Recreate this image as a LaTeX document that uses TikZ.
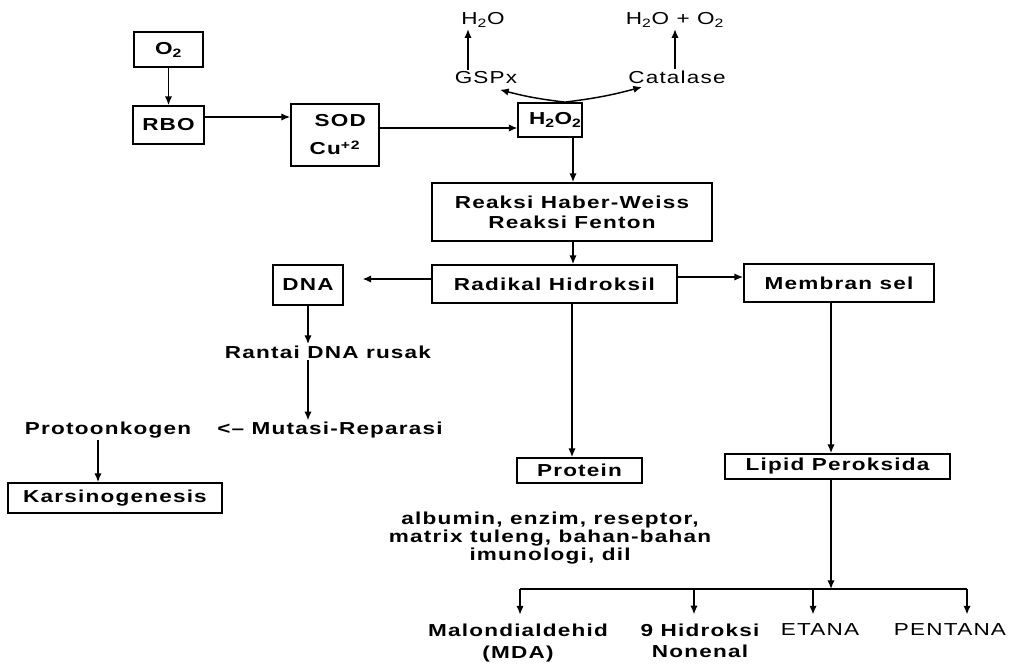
\documentclass[tikz,border=0pt]{standalone}
\usepackage{fontspec}
\setmainfont{Liberation Sans}[FakeStretch=1.3, LetterSpace=7]
\usetikzlibrary{arrows.meta,calc}
\begin{document}
\begin{tikzpicture}[x=0.75pt,y=-0.75pt,
  bf/.style={font=\bfseries\fontsize{13}{15}\selectfont},
  rg/.style={font=\fontsize{13}{15}\selectfont},
  box/.style={draw, line width=1.3pt, inner sep=0pt, bf},
  sz/.style 2 args={minimum width=#1*0.75pt, minimum height=#2*0.75pt},
  lbl/.style={inner sep=1pt},
  ln/.style={line width=1.1pt},
  arr/.style={line width=1.1pt, -{Latex[length=6.5pt,width=5.5pt]}}]
\useasboundingbox (0,0) rectangle (1012,667);
% boxes
\node[box, sz={69}{35}] (o2) at (168.5,49.5) {O\textsubscript{2}};
\node[box, sz={71}{38}] (rbo) at (168.5,125) {RBO};
\node[box, sz={88}{62}, align=center] (sod) at (335,135) {\hspace*{8pt}SOD\\[6pt]Cu\textsuperscript{+2}};
\node[box, sz={62}{34}] (h2o2) at (550,120) {\hspace*{8pt}H\textsubscript{2}O\textsubscript{2}};
\node[box, sz={280}{58}, align=center] (hw) at (572,212) {Reaksi Haber-Weiss\\Reaksi Fenton};
\node[box, sz={245}{38}] (rh) at (554.5,284) {Radikal Hidroksil};
\node[box, sz={70}{40}] (dna) at (308,285) {DNA};
\node[box, sz={190}{38}] (mem) at (839,283) {Membran sel};
\node[box, sz={125}{25}] (prot) at (579.5,470.5) {Protein};
\node[box, sz={225}{25}] (lip) at (837.5,466.5) {Lipid Peroksida};
\node[box, sz={214}{30}] (kars) at (115,498) {Karsinogenesis};
% labels
\node[lbl, rg] (h2oa) at (483,20) {H\textsubscript{2}O};
\node[lbl, rg] (gspx) at (486,78) {GSPx};
\node[lbl, rg] (cat) at (677,77) {Catalase};
\node[lbl, rg] (h2ob) at (675,20) {H\textsubscript{2}O + O\textsubscript{2}};
\node[lbl, bf] (rantai) at (328,352) {Rantai DNA rusak};
\node[lbl, bf] (proto) at (108,430) {Protoonkogen};
\node[lbl, bf] (mut) at (330,430) {<– Mutasi-Reparasi};
\node[lbl, bf, align=center, font=\bfseries\fontsize{13}{13.5}\selectfont] (alb) at (550,538) {albumin, enzim, reseptor,\\matrix tuleng, bahan-bahan\\imunologi, dil};
\node[lbl, bf, align=center] (mda) at (518,643) {Malondialdehid\\[1pt](MDA)};
\node[lbl, bf, align=center] (hno) at (700,641) {9 Hidroksi\\[1pt]Nonenal};
\node[lbl, rg] (eta) at (820,630) {ETANA};
\node[lbl, rg] (pen) at (950,630) {PENTANA};
% helper coordinates
\coordinate (c573) at (573,0);
\coordinate (c572) at (572,0);
\coordinate (c831) at (831,0);
\coordinate (c98) at (98,0);
\coordinate (y117) at (0,117);
\coordinate (y128) at (0,128);
\coordinate (y279) at (0,279);
\coordinate (y277) at (0,277);
\coordinate (j) at (831,589);
\coordinate (jl) at (520,589);
\coordinate (j2) at (694,589);
\coordinate (j3) at (813,589);
\coordinate (jr) at (967,589);
% connectors
\draw[arr] (o2) -- (rbo);
\draw[arr] (rbo.east |- y117) -- (sod.west |- y117);
\draw[arr] (sod.east |- y128) -- (h2o2.west |- y128);
\draw[arr] ($(h2o2.north)+(15,0)$) to[bend left=4] ($(gspx.south)+(14,4)$);
\draw[arr] ($(h2o2.north)+(15,0)$) to[bend right=4] ($(cat.south)+(-35,2)$);
\draw[arr] ($(gspx.north)+(-18,0)$) -- ($(h2oa.south)+(-15,0)$);
\draw[arr] (cat.north -| h2ob.south) -- (h2ob.south);
\draw[arr] (h2o2.south -| c573) -- (hw.north -| c573);
\draw[arr] (hw.south -| c573) -- (rh.north -| c573);
\draw[arr, shorten >=14pt] (rh.west |- y279) -- (dna.east |- y279);
\draw[arr] (rh.east |- y277) -- (mem.west |- y277);
\draw[arr] (dna.south) -- (dna.south |- rantai.north);
\draw[arr] (rantai.south -| dna.south) -- (mut.north -| dna.south);
\draw[arr] (proto.south -| c98) -- (kars.north -| c98);
\draw[arr] (rh.south -| c572) -- (prot.north -| c572);
\draw[arr] (mem.south -| c831) -- (lip.north -| c831);
\draw[arr] (lip.south -| j) -- (j);
\draw[ln] (jl) -- (jr);
\draw[arr, shorten >=6pt] (jl) -- (mda.north -| jl);
\draw[arr, shorten >=6pt] (j2) -- (hno.north -| j2);
\draw[arr, shorten >=6pt] (j3) -- (eta.north -| j3);
\draw[arr, shorten >=6pt] (jr) -- (pen.north -| jr);
\end{tikzpicture}
\end{document}
